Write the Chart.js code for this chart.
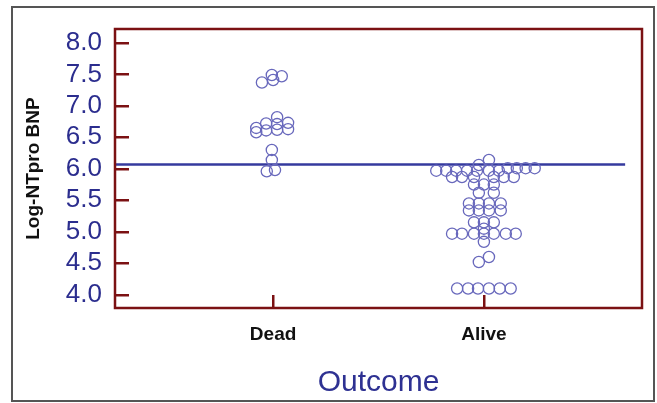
<!DOCTYPE html>
<html>
<head>
<meta charset="utf-8">
<script src="https://cdn.jsdelivr.net/npm/chart.js@4.4.1/dist/chart.umd.min.js"></script>
<style>
  html, body { margin: 0; padding: 0; background: #fff; }
  canvas { display: block; }
</style>
</head>
<body>
<canvas id="swarmChart" width="657" height="403"></canvas>
<script>
// categories on the x axis
const categories = ['Dead', 'Alive'];
const yTicks = [4.0, 4.5, 5.0, 5.5, 6.0, 6.5, 7.0, 7.5, 8.0];
const cutoff = 6.07;

// Log-NTpro BNP values and their swarm offsets (in category units)
const deadValues  = [7.37, 7.49, 7.41, 7.47,
                     6.65, 6.58, 6.72, 6.61, 6.82, 6.71, 6.62, 6.73, 6.63,
                     6.30, 6.14, 5.96, 5.98];
const deadOffsets = [-0.053, -0.006, 0.000, 0.041,
                     -0.080, -0.080, -0.033, -0.033, 0.019, 0.019, 0.019, 0.071, 0.071,
                     -0.006, -0.006, -0.030, 0.009];

const aliveValues  = [6.14, 6.06,
                      6.01, 6.01, 6.01, 6.01,
                      5.97, 5.97, 5.97, 5.97, 5.97, 5.97, 5.97,
                      5.87, 5.87, 5.87, 5.87, 5.87, 5.87,
                      5.75, 5.75, 5.75,
                      5.62, 5.62,
                      5.45, 5.45, 5.45, 5.45,
                      5.34, 5.34, 5.34, 5.34,
                      5.15, 5.15, 5.15,
                      5.05,
                      4.97, 4.97, 4.97, 4.97, 4.97, 4.97, 4.97,
                      4.84, 4.60, 4.52,
                      4.10, 4.10, 4.10, 4.10, 4.10, 4.10];
const aliveOffsets = [0.024, -0.024,
                      0.113, 0.156, 0.198, 0.241,
                      -0.226, -0.179, -0.132, -0.080, -0.033, 0.024, 0.071,
                      -0.151, -0.104, -0.047, 0.047, 0.094, 0.142,
                      -0.047, 0.000, 0.047,
                      -0.024, 0.047,
                      -0.071, -0.024, 0.024, 0.080,
                      -0.071, -0.024, 0.024, 0.080,
                      -0.047, 0.000, 0.047,
                      0.000,
                      -0.151, -0.104, -0.047, 0.000, 0.047, 0.104, 0.151,
                      0.000, 0.024, -0.024,
                      -0.127, -0.075, -0.028, 0.024, 0.075, 0.127];

const FONT = "'Liberation Sans', Arial, sans-serif";
const RED = '#7b1113';

function toPoints(catIndex, values, offsets) {
  return values.map((v, i) => ({ x: catIndex + 1 + offsets[i], y: v }));
}

const framePlugin = {
  id: 'frame',
  beforeDraw(chart) {
    const ctx = chart.ctx;
    ctx.save();
    ctx.fillStyle = '#fff';
    ctx.fillRect(0, 0, chart.width, chart.height);
    ctx.strokeStyle = '#555';
    ctx.lineWidth = 2;
    ctx.strokeRect(12, 7, 642, 394);
    ctx.restore();
  },
  afterDraw(chart) {
    const a = chart.chartArea;
    const ctx = chart.ctx;
    ctx.save();
    ctx.strokeStyle = RED;
    ctx.lineWidth = 2.5;
    ctx.strokeRect(a.left, a.top, a.right - a.left, a.bottom - a.top);
    ctx.restore();
  }
};

const pointStyle = {
  type: 'scatter',
  pointRadius: 5.6,
  pointHoverRadius: 5.6,
  pointBorderWidth: 1.3,
  borderColor: '#6868bc',
  backgroundColor: 'rgba(255,255,255,0)',
  order: 1
};

new Chart(document.getElementById('swarmChart'), {
  type: 'scatter',
  data: {
    datasets: [
      Object.assign({ label: categories[0], data: toPoints(0, deadValues, deadOffsets) }, pointStyle),
      Object.assign({ label: categories[1], data: toPoints(1, aliveValues, aliveOffsets) }, pointStyle),
      {
        type: 'line',
        label: 'cutoff',
        data: [{ x: 0.25, y: cutoff }, { x: 2.67, y: cutoff }],
        borderColor: '#353a9e',
        borderWidth: 2.5,
        pointRadius: 0,
        order: 2
      }
    ]
  },
  options: {
    responsive: false,
    animation: false,
    layout: { padding: { top: 29, right: 15, left: 0, bottom: 0 } },
    plugins: {
      legend: { display: false },
      tooltip: { enabled: false }
    },
    scales: {
      x: {
        type: 'linear',
        min: 0.25,
        max: 2.75,
        afterFit: (scale) => {
          scale.height = 95;
          scale.paddingLeft = 0;
          scale.paddingRight = 0;
        },
        afterBuildTicks: (scale) => { scale.ticks = categories.map((c, i) => ({ value: i + 1 })); },
        border: { display: false },
        grid: { drawOnChartArea: false, drawTicks: true, tickLength: -13, color: RED, lineWidth: 2.5 },
        ticks: {
          autoSkip: false,
          maxRotation: 0,
          minRotation: 0,
          padding: 28,
          color: '#111',
          font: { family: FONT, size: 19, weight: 'bold' },
          callback: (v) => categories[Math.round(v) - 1] || ''
        },
        title: {
          display: true,
          text: 'Outcome',
          color: '#2e3192',
          font: { family: FONT, size: 30 },
          padding: { top: 0, bottom: 2 }
        }
      },
      y: {
        min: 3.79,
        max: 8.22,
        afterFit: (scale) => {
          scale.width = 115;
          scale.paddingTop = 0;
          scale.paddingBottom = 0;
        },
        afterBuildTicks: (scale) => { scale.ticks = yTicks.map(v => ({ value: v })); },
        border: { display: false },
        grid: { drawOnChartArea: false, drawTicks: true, tickLength: -14, color: RED, lineWidth: 2.5 },
        ticks: {
          autoSkip: false,
          padding: 27,
          color: '#2b2d8e',
          font: { family: FONT, size: 26 },
          callback: (v) => Number(v).toFixed(1)
        },
        title: {
          display: true,
          text: 'Log-NTpro BNP',
          color: '#111',
          font: { family: FONT, size: 19, weight: 'bold' },
          padding: { top: 22, bottom: 0 }
        }
      }
    }
  },
  plugins: [framePlugin]
});
</script>
</body>
</html>
